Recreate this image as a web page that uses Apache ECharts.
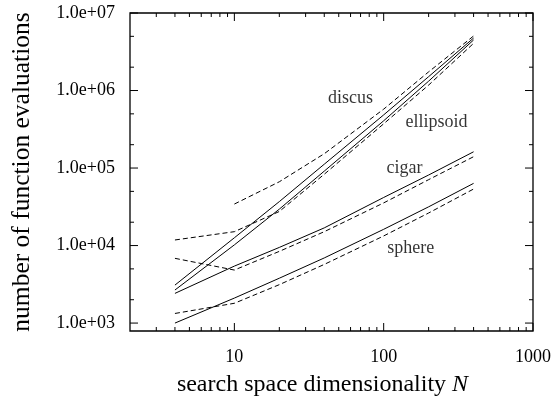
<!DOCTYPE html>
<html>
<head>
<meta charset="utf-8">
<script src="https://cdn.jsdelivr.net/npm/echarts@6/dist/echarts.min.js"></script>
<style>
  html, body { margin: 0; padding: 0; background: #fff; }
  #chart { width: 556px; height: 403px; }
</style>
</head>
<body>
<div id="chart"></div>
<script>
// Search space dimensions N at which runs were made
const dims = [4, 10, 20, 40, 100, 200, 400];

// Function evaluations per test function (solid and dashed variants)
const sphereSolid     = [1000, 2100, 3790, 6920, 16200, 31600, 63400];
const sphereDashed    = [1330, 1800, 3130, 5710, 13300, 26300, 53600];
const cigarSolid      = [2415, 5430, 9460, 16900, 41700, 81300, 162000];
const cigarDashed     = [6840, 4830, 8410, 15100, 35500, 70800, 140000];
const discusSolid     = [3090, 12600, 36900, 112000, 485000, 1510000, 4750000];
const discusDashed    = [null, 34300, 66500, 153000, 575000, 1740000, 5050000];
const ellipsoidSolid  = [2670, 10200, 29500, 91200, 407000, 1320000, 4490000];
const ellipsoidDashed = [11800, 15100, 27500, 83200, 372000, 1175000, 4060000];

// Curve names and where they are written (N, evaluations)
const curveNames  = ['discus', 'ellipsoid', 'cigar', 'sphere'];
const nameAnchorN = [60, 226, 138, 152];
const nameAnchorY = [800000, 393000, 100000, 9290];

// Axis ticks
const xMajorTicks = [10, 100, 1000];
const xMinorTicks = [3, 4, 5, 6, 7, 8, 9, 20, 30, 40, 50, 60, 70, 80, 90,
                     200, 300, 400, 500, 600, 700, 800, 900];
const yMajorTicks = [1e3, 1e4, 1e5, 1e6, 1e7];
const yMinorTicks = [2e3, 5e3, 2e4, 5e4, 2e5, 5e5, 2e6, 5e6];

const X_MIN = 2, X_MAX = 1000;
const Y_MIN = 790, Y_MAX = 1e7;

const FONT = 'Liberation Serif';
const INK = '#000';
const GRID = { left: 130, right: 23, top: 13, bottom: 72 };

function pairs(values) {
  const out = [];
  values.forEach((v, i) => { if (v != null) out.push([dims[i], v]); });
  return out;
}

function lineSeries(values, dashed) {
  return {
    type: 'line',
    data: pairs(values),
    symbol: 'none',
    silent: true,
    lineStyle: { color: INK, width: 1, type: dashed ? [5, 3] : 'solid' }
  };
}

function yLabel(v) {
  const s = Number(v).toExponential(1);           // e.g. 1.0e+7
  return s.replace(/e([+-])(\d)$/, 'e$10$2');      // -> 1.0e+07
}

const chart = echarts.init(document.getElementById('chart'), null, { renderer: 'canvas' });

// Inward tick marks on all four frame sides, each a short segment in data space
const plotW = chart.getWidth() - GRID.left - GRID.right;
const plotH = chart.getHeight() - GRID.top - GRID.bottom;
const xStep = len => Math.pow(10, len * Math.log10(X_MAX / X_MIN) / plotW);
const yStep = len => Math.pow(10, len * Math.log10(Y_MAX / Y_MIN) / plotH);

function tickSegment(points) {
  return {
    type: 'line', data: points, symbol: 'none', silent: true, clip: false,
    lineStyle: { color: INK, width: 1, type: 'solid' }, z: 3
  };
}

function xTicks(values, len) {
  const k = yStep(len);
  const out = [];
  values.forEach(v => {
    out.push(tickSegment([[v, Y_MIN], [v, Y_MIN * k]]));
    out.push(tickSegment([[v, Y_MAX], [v, Y_MAX / k]]));
  });
  return out;
}

function yTicks(values, len) {
  const k = xStep(len);
  const out = [];
  values.forEach(v => {
    out.push(tickSegment([[X_MIN, v], [X_MIN * k, v]]));
    out.push(tickSegment([[X_MAX, v], [X_MAX / k, v]]));
  });
  return out;
}

const curves = [
  lineSeries(sphereSolid, false), lineSeries(sphereDashed, true),
  lineSeries(cigarSolid, false), lineSeries(cigarDashed, true),
  lineSeries(discusSolid, false), lineSeries(discusDashed, true),
  lineSeries(ellipsoidSolid, false), lineSeries(ellipsoidDashed, true)
];

const nameSeries = {
  type: 'scatter',
  silent: true,
  symbolSize: 0,
  data: curveNames.map((n, i) => ({ name: n, value: [nameAnchorN[i], nameAnchorY[i]] })),
  label: {
    show: true, position: 'inside',
    formatter: p => p.name,
    fontFamily: FONT, fontSize: 18, color: INK
  }
};

chart.setOption({
  animation: false,
  grid: Object.assign({ containLabel: false, show: true, borderColor: INK, borderWidth: 1.3 }, GRID),
  xAxis: {
    type: 'log', logBase: 10, min: X_MIN, max: X_MAX,
    axisLine: { show: false, onZero: false },
    axisTick: { show: false },
    splitLine: { show: false },
    axisLabel: {
      show: true, customValues: xMajorTicks, margin: 17,
      fontFamily: FONT, fontSize: 18, color: INK,
      formatter: v => String(Math.round(v))
    },
    name: 'search space dimensionality {i|N}',
    nameLocation: 'middle',
    nameGap: 42,
    nameTextStyle: {
      fontFamily: FONT, fontSize: 24, color: INK,
      padding: [0, 18, 0, 0],
      rich: { i: { fontFamily: FONT, fontSize: 24, fontStyle: 'italic', color: INK } }
    }
  },
  yAxis: {
    type: 'log', logBase: 10, min: Y_MIN, max: Y_MAX,
    axisLine: { show: false, onZero: false },
    axisTick: { show: false },
    splitLine: { show: false },
    axisLabel: {
      show: true, customValues: yMajorTicks, margin: 15,
      fontFamily: FONT, fontSize: 18, color: INK,
      formatter: yLabel
    },
    name: 'number of function evaluations',
    nameLocation: 'middle',
    nameGap: 95,
    nameRotate: 90,
    nameTextStyle: { fontFamily: FONT, fontSize: 25.5, color: INK }
  },
  series: curves.concat(
    [nameSeries],
    xTicks(xMajorTicks, 8), xTicks(xMinorTicks, 4),
    yTicks(yMajorTicks, 8), yTicks(yMinorTicks, 4)
  )
});
</script>
</body>
</html>
